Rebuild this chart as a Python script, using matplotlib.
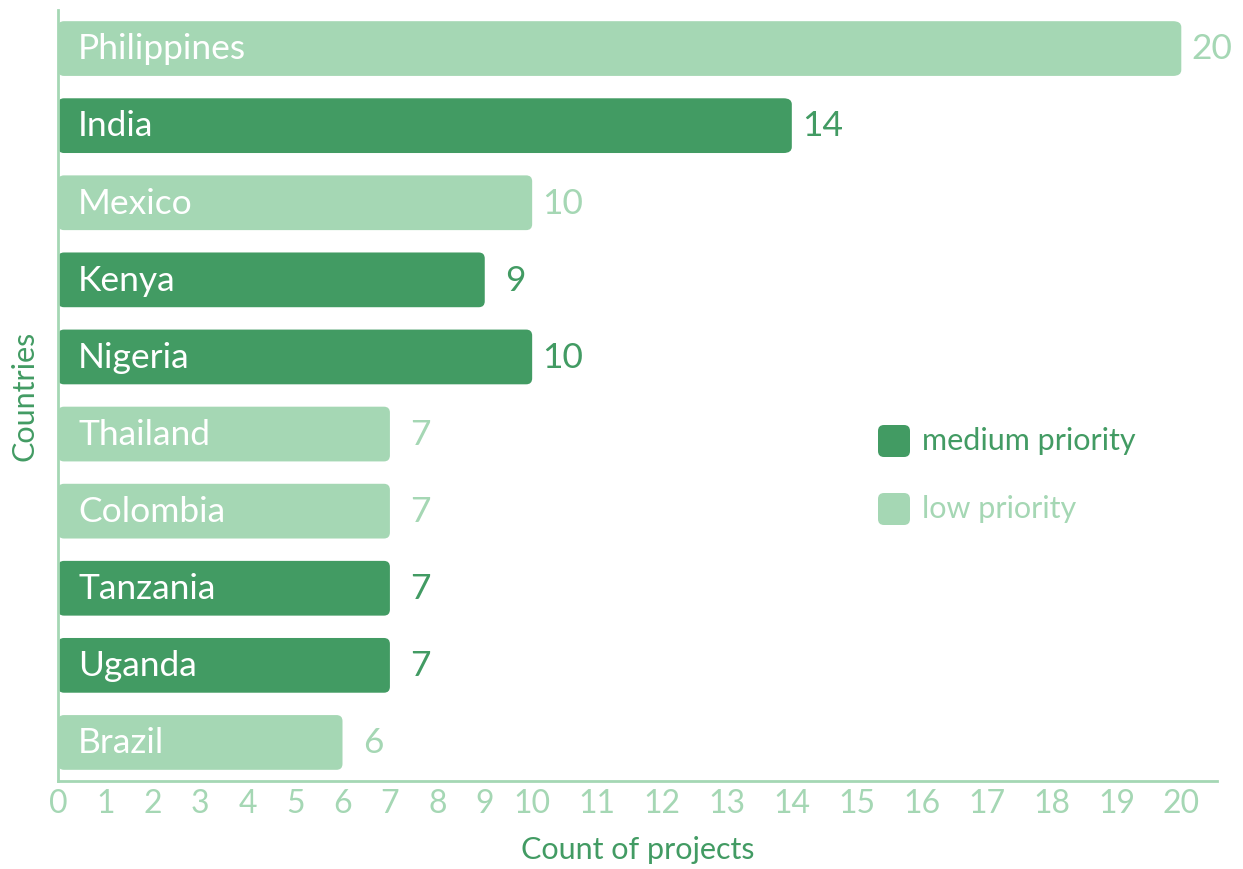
import numpy as np
import matplotlib.pyplot as plt
from matplotlib.patches import FancyBboxPatch

countries = ['Philippines', 'India', 'Mexico', 'Kenya', 'Nigeria',
             'Thailand', 'Colombia', 'Tanzania', 'Uganda', 'Brazil']
counts = [20, 14, 10, 9, 10, 7, 7, 7, 7, 6]
priority = ['low', 'medium', 'low', 'medium', 'medium',
            'low', 'low', 'medium', 'medium', 'low']

dark = '#429b63'
light = '#a5d7b4'
colors = {'medium': dark, 'low': light}

plt.rcParams['font.family'] = ['Lato', 'DejaVu Sans']

# the x axis in the original spaces tick labels evenly by their width,
# so two-digit values get more room than one-digit ones
stretch = 1.369


def fwd(x):
    x = np.asarray(x, dtype=float)
    return np.where(x <= 10, x, 10 + (x - 10) * stretch)


def inv(u):
    u = np.asarray(u, dtype=float)
    return np.where(u <= 10, u, 10 + (u - 10) / stretch)


fig = plt.figure(figsize=(12.43, 8.69), dpi=100)
ax = fig.add_axes([58 / 1243, 1 - 781 / 869, (1217 - 58) / 1243, (781 - 10) / 869])
ax.set_xscale('function', functions=(fwd, inv))
ax.set_xlim(0, 20.55)
ax.set_ylim(9.5, -0.5)

ypos = list(range(len(countries)))
bars = ax.barh(ypos, counts, height=0.71, color='none')

xpp = 24.45 / (1217 - 58)
ypp = 10.0 / (781 - 10)
for b, p in zip(bars, priority):
    x0, y0 = b.get_x(), b.get_y()
    w, h = b.get_width(), b.get_height()
    ax.add_patch(FancyBboxPatch((x0, y0), w, h,
                                boxstyle='round,pad=0,rounding_size=%f' % (6 * xpp),
                                mutation_aspect=ypp / xpp,
                                facecolor=colors[p], edgecolor='none'))

for y, name, v, p in zip(ypos, countries, counts, priority):
    ax.text(20 * xpp, y + 0.01, name, color='white', fontsize=25.5, va='center', ha='left')
    ax.annotate(str(v), (v, y + 0.01), xytext=(22, 0), textcoords='offset points',
                color=colors[p], fontsize=25.5, va='center', ha='center')

ax.set_xticks(range(0, 21))
ax.set_xticklabels([str(i) for i in range(0, 21)])
ax.xaxis.set_minor_locator(plt.NullLocator())
ax.set_yticks([])
ax.tick_params(axis='x', length=0, labelsize=23, labelcolor=light, pad=6)
for s in ['top', 'right']:
    ax.spines[s].set_visible(False)
for s in ['left', 'bottom']:
    ax.spines[s].set_color(light)
    ax.spines[s].set_linewidth(2)

ax.set_xlabel('Count of projects', fontsize=22, color=dark, labelpad=12)
ax.set_ylabel('Countries', fontsize=22, color=dark, labelpad=14)

# legend
leg_items = [('medium priority', dark, 441), ('low priority', light, 509)]
for label, c, yc in leg_items:
    fig.patches.append(FancyBboxPatch((878 / 1243, 1 - (yc + 16) / 869), 32 / 1243, 32 / 869,
                                      boxstyle='round,pad=0,rounding_size=%f' % (6 / 1243),
                                      mutation_aspect=1243 / 869,
                                      facecolor=c, edgecolor='none',
                                      transform=fig.transFigure))
    fig.text(922 / 1243, 1 - yc / 869, label, color=c, fontsize=22, va='center', ha='left')

plt.savefig('out.png', dpi=100)
